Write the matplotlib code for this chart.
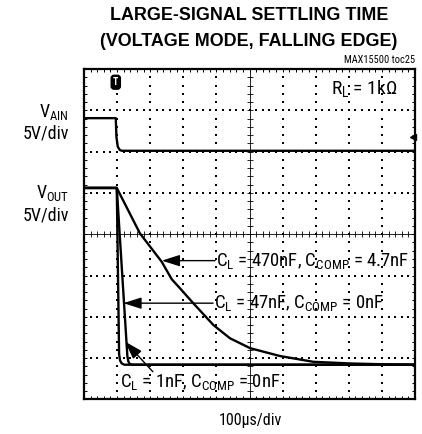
import numpy as np
import matplotlib
matplotlib.use("Agg")
import matplotlib.pyplot as plt

# ---- data (divisions: x 0..10, y 0..8) ----
vain_x = [0, 0.96, 0.98, 1.02, 1.08, 1.14, 10]
vain_y = [6.81, 6.81, 6.35, 6.12, 6.04, 6.02, 6.02]

c1nf_x = [0, 0.99, 1.06, 1.09, 1.14, 1.22, 10]
c1nf_y = [5.12, 5.12, 1.10, 0.94, 0.87, 0.84, 0.84]

c47nf_x = [0, 0.99, 1.31, 1.34, 1.38, 1.46, 10]
c47nf_y = [5.12, 5.12, 1.05, 0.92, 0.86, 0.84, 0.84]

c470nf_x = [0, 0.99, 1.69, 2.35, 2.65, 2.90, 3.30, 3.91, 4.41, 5.02, 5.92, 6.93, 8.04, 9.04, 10]
c470nf_y = [5.12, 5.12, 4.02, 3.33, 2.91, 2.69, 2.33, 1.80, 1.48, 1.24, 1.05, 0.91, 0.87, 0.85, 0.84]

title_lines = ["LARGE-SIGNAL SETTLING TIME", "(VOLTAGE MODE, FALLING EDGE)"]
label_470 = r"C$_{L}$ = 470nF, C$_{COMP}$ = 4.7nF"
label_47 = r"C$_{L}$ = 47nF, C$_{COMP}$ = 0nF"
label_1 = r"C$_{L}$ = 1nF, C$_{COMP}$ = 0nF"
label_rl = r"R$_{L}$ = 1k$\Omega$"

FONT = 'Roboto Condensed'
plt.rcParams['font.family'] = [FONT, 'Liberation Sans', 'DejaVu Sans']
plt.rcParams['mathtext.fontset'] = 'custom'
plt.rcParams['mathtext.rm'] = FONT
plt.rcParams['mathtext.it'] = FONT
plt.rcParams['mathtext.bf'] = FONT + ':bold'
plt.rcParams['mathtext.default'] = 'regular'

W, H = 422, 434
fig = plt.figure(figsize=(W / 100, H / 100), dpi=100)

def fx(px):
    return px / W

def fy(py):
    return 1 - py / H

L, R, T, B = 84, 415, 69, 399.4
ax = fig.add_axes([fx(L), fy(B), fx(R) - fx(L), fy(T) - fy(B)])
ax.set_xlim(0, 10)
ax.set_ylim(0, 8)

# grid dots
minor_x = np.arange(0.2, 10, 0.2)
minor_y = np.arange(0.2, 8, 0.2)
for gx in range(1, 10):
    if gx == 5:
        continue
    ax.scatter(np.full(len(minor_y), gx), minor_y, s=1.3, c='black', marker='s', linewidths=0)
for gy in range(1, 8):
    if gy == 4:
        continue
    ax.scatter(minor_x, np.full(len(minor_x), gy), s=1.3, c='black', marker='s', linewidths=0)
# center cross lines with ticks
ax.plot([0, 10], [4, 4], color='black', lw=0.6)
ax.plot([5, 5], [0, 8], color='black', lw=0.6)
ax.scatter(minor_x, np.full(len(minor_x), 4), marker='|', s=16, c='black', linewidths=0.6)
ax.scatter(np.full(len(minor_y), 5), minor_y, marker='_', s=16, c='black', linewidths=0.6)

# traces
lw = 1.7
for xs, ys in [(vain_x, vain_y), (c470nf_x, c470nf_y), (c47nf_x, c47nf_y), (c1nf_x, c1nf_y)]:
    ax.plot(xs, ys, color='black', lw=lw, solid_joinstyle='round')

# annotations
fs = 13.5
ap = dict(arrowstyle='-|>,head_length=1.1,head_width=0.35', color='black', lw=1.0, shrinkA=0, shrinkB=0)
ax.annotate('', xy=(2.35, 3.36), xytext=(3.96, 3.36), arrowprops=ap)
ax.text(3.99, 3.36, label_470, fontsize=fs, va='center', ha='left')
ax.annotate('', xy=(1.19, 2.33), xytext=(3.90, 2.33), arrowprops=ap)
ax.text(3.93, 2.33, label_47, fontsize=fs, va='center', ha='left')
ax.annotate('', xy=(1.24, 1.40), xytext=(2.08, 0.67), arrowprops=ap)
ax.text(1.09, 0.42, label_1, fontsize=fs, va='center', ha='left')

ax.text(9.46, 7.52, label_rl, fontsize=fs + 0.5, va='center', ha='right')

# trigger marker and channel marker
ax.text(0.96, 7.68, "T", fontsize=7, color='white', fontweight='bold', ha='center', va='center',
        bbox=dict(boxstyle='round,pad=0.2,rounding_size=0.3', fc='black', ec='black'))
ax.plot([9.93], [6.35], marker='<', color='black', markersize=5, clip_on=False)

# frame & ticks
for sp in ax.spines.values():
    sp.set_linewidth(1.6)
ax.set_xticks(np.arange(0, 10.01, 0.2))
ax.set_yticks(np.arange(0, 8.01, 0.2))
ax.tick_params(direction='in', length=2.5, width=0.7, top=True, right=True,
               labelbottom=False, labelleft=False)

# texts
fig.text(fx(249), fy(15), title_lines[0], fontsize=12.9, fontweight='bold',
         family=['Liberation Sans'], ha='center', va='center')
fig.text(fx(249), fy(42), title_lines[1], fontsize=12.9, fontweight='bold',
         family=['Liberation Sans'], ha='center', va='center')
fig.text(fx(415), fy(60), "MAX15500 toc25", fontsize=7.5, ha='right', va='center')
fig.text(fx(69), fy(112), r"V$_{AIN}$", fontsize=13, ha='right', va='center')
fig.text(fx(69), fy(134), "5V/div", fontsize=13, ha='right', va='center')
fig.text(fx(69), fy(193), r"V$_{OUT}$", fontsize=13, ha='right', va='center')
fig.text(fx(69), fy(215), "5V/div", fontsize=13, ha='right', va='center')
fig.text(fx(250), fy(421), "100µs/div", fontsize=11.5, ha='center', va='center')

fig.savefig("out.png", dpi=100)
